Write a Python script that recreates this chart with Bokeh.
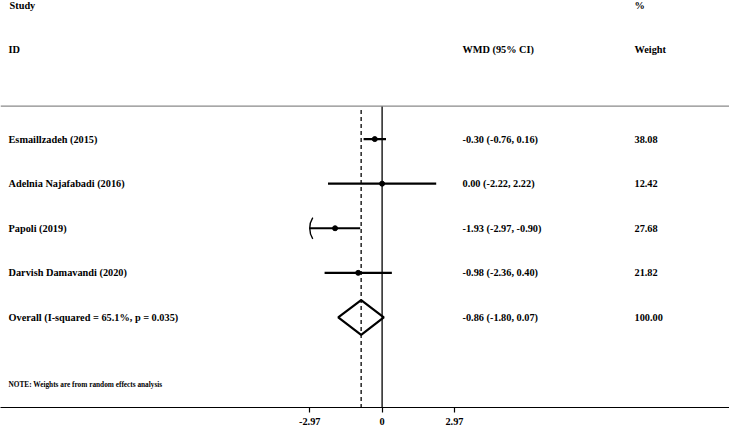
from bokeh.plotting import figure
from bokeh.models import Range1d, FixedTicker, Span, ColumnDataSource
from bokeh.core.properties import value
from bokeh.embed import file_html
from bokeh.resources import INLINE

# ---------------- data ----------------
studies = ["Esmaillzadeh (2015)", "Adelnia Najafabadi (2016)", "Papoli (2019)", "Darvish Damavandi (2020)"]
wmd = [-0.30, 0.00, -1.93, -0.98]
ci_lo = [-0.76, -2.22, -2.97, -2.36]
ci_hi = [0.16, 2.22, -0.90, 0.40]
weights = [38.08, 12.42, 27.68, 21.82]

overall_label = "Overall  (I-squared = 65.1%, p = 0.035)"
overall_wmd = -0.86
overall_lo = -1.80
overall_hi = 0.07
overall_weight = 100.00

x_ticks = [-2.97, 0, 2.97]
x_tick_labels = ["-2.97", "0", "2.97"]
note = "NOTE: Weights are from random effects analysis"

# ---------------- layout ----------------
W, H = 729, 427
PX_PER_UNIT = 24.37
ZERO_PX = 381.6
ROW_PX = 44.34
TOP_PAD = 4.8
FONT = value("Liberation Serif")

p = figure(width=W, height=H, output_backend="svg", toolbar_location=None,
           x_range=Range1d(-ZERO_PX / PX_PER_UNIT, (W - ZERO_PX) / PX_PER_UNIT),
           y_range=Range1d(6.02, -3 - TOP_PAD / ROW_PX),
           y_axis_location=None, min_border=0)
p.extra_x_ranges = {"px": Range1d(0, W)}
p.outline_line_color = None
p.grid.visible = False
p.background_fill_color = "white"
p.border_fill_color = "white"

ax = p.xaxis[0]
ax.ticker = FixedTicker(ticks=x_ticks)
ax.major_label_overrides = {t: l for t, l in zip(x_ticks, x_tick_labels)}
ax.axis_line_color = "black"
ax.axis_line_width = 1.2
ax.major_tick_line_color = "black"
ax.major_tick_line_width = 1.2
ax.major_tick_out = 5
ax.major_tick_in = 0
ax.minor_tick_line_color = None
ax.major_label_standoff = 5
ax.major_label_text_font = "Liberation Serif"
ax.major_label_text_font_style = "bold"
ax.major_label_text_font_size = "10.3px"
ax.major_label_text_color = "black"

n = len(studies)
rows = list(range(n))
overall_row = n
top_rule = -0.74
axis_row = 6.02

# header rule
p.add_layout(Span(location=top_rule, dimension="width", line_color="#8a8a8a", line_width=1.3))

# null line and overall effect line
p.segment(x0=[0], y0=[top_rule], x1=[0], y1=[axis_row], line_color="black", line_width=1.3)
p.segment(x0=[overall_wmd], y0=[top_rule + 0.09], x1=[overall_wmd], y1=[axis_row],
          line_color="black", line_width=1.3, line_dash="4 3")

# CI lines (clipped at the lowest tick)
axis_min = x_ticks[0]
seg_lo = [max(l, axis_min) for l in ci_lo]
src = ColumnDataSource(dict(y=rows, est=wmd, lo=seg_lo, hi=ci_hi))
p.segment(x0="lo", y0="y", x1="hi", y1="y", source=src, line_color="black", line_width=2.2)
p.scatter(x="est", y="y", source=src, size=5, color="black")

# clipping arrows ("(" bracket) for CIs that reach the axis limit
arc_r_px = 20.0
clip_rows = [r for r, l in zip(rows, ci_lo) if l <= axis_min]
if clip_rows:
    p.arc(x=[axis_min + arc_r_px / PX_PER_UNIT] * len(clip_rows), y=clip_rows,
          radius=arc_r_px, radius_units="screen",
          start_angle=148, end_angle=212,
          start_angle_units="deg", end_angle_units="deg",
          line_color="black", line_width=1.4)

# overall diamond
h = 0.39
p.patch(x=[overall_lo, overall_wmd, overall_hi, overall_wmd, overall_lo],
        y=[overall_row, overall_row - h, overall_row, overall_row + h, overall_row],
        fill_alpha=0, line_color="black", line_width=2.2)

# ---------------- text columns ----------------
labels = studies + [overall_label]
all_est = wmd + [overall_wmd]
all_lo = ci_lo + [overall_lo]
all_hi = ci_hi + [overall_hi]
wmd_txt = ["%.2f (%.2f, %.2f)" % (e, l, u) for e, l, u in zip(all_est, all_lo, all_hi)]
w_txt = ["%.2f" % w for w in weights + [overall_weight]]
ys = rows + [overall_row]

COL_ID, COL_WMD, COL_W = 8, 462, 634
txt = dict(x_range_name="px", text_font=FONT, text_font_style="bold",
           text_font_size="10.3px", text_baseline="middle", text_align="left",
           text_color="black")
p.text(x=[COL_ID] * len(ys), y=ys, text=labels, **txt)
p.text(x=[COL_WMD] * len(ys), y=ys, text=wmd_txt, **txt)
p.text(x=[COL_W] * len(ys), y=ys, text=w_txt, **txt)

# headers
p.text(x=[COL_ID + 1, COL_ID, COL_WMD, COL_W, COL_W],
       y=[-3, -2, -2, -3, -2],
       text=["Study", "ID", "WMD (95% CI)", "%", "Weight"], **txt)

# note
p.text(x=[COL_ID], y=[5.5], text=[note], x_range_name="px", text_font=FONT,
       text_font_style="bold", text_font_size="7.3px", text_baseline="middle",
       text_align="left", text_color="black")

open("out.html", "w").write(file_html(p, INLINE))
